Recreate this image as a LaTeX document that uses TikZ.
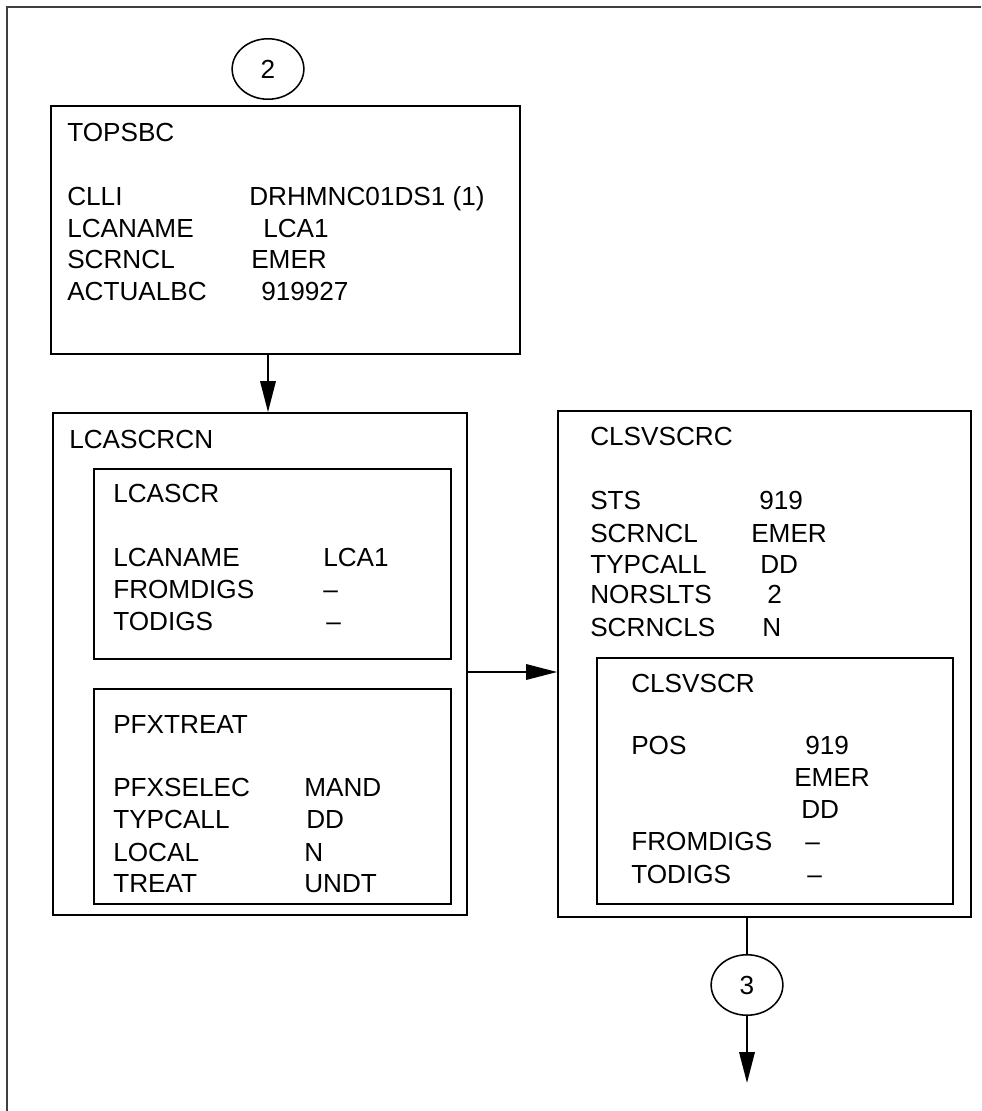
\documentclass[tikz,border=0pt]{standalone}
\usepackage{fontspec}
\setmainfont{Liberation Sans}
\usetikzlibrary{fit,arrows.meta,shapes.geometric}

\begin{document}
\begin{tikzpicture}[x=0.025cm,y=-0.025cm,
  box/.style={draw,line width=1.3pt,inner sep=0pt},
  lbl/.style={anchor=base west,inner sep=0pt,font=\fontsize{18.6}{22}\selectfont},
  conn/.style={draw,ellipse,line width=1.1pt,minimum width=51pt,minimum height=43pt,
    inner sep=0pt,font=\fontsize{18.6}{22}\selectfont},
  arr/.style={line width=1.3pt,-{Triangle[length=22pt,width=11pt]}}]
\useasboundingbox (0,0) rectangle (981,1111);
\draw[line width=1pt,black!75] (7,1111) -- (7,7) -- (981,7);

% boxes
\node[box,fit={(51,106) (520,354)}] (topsbc) {};
\node[box,fit={(53,413) (467,915)}] (lcascrcn) {};
\node[box,fit={(94,469) (451,659)}] (lcascr) {};
\node[box,fit={(94,689) (451,904)}] (pfxtreat) {};
\node[box,fit={(558,411) (971,917)}] (clsvscrc) {};
\node[box,fit={(597,658) (953,904)}] (clsvscr) {};

% off-page connectors
\node[conn] (c2) at (268,69) {2};
\node[conn] (c3) at (747,985) {3};

% TOPSBC
\node[lbl] (topsbc-t) at (67,141) {TOPSBC};
\node[lbl] (topsbc-k1) at (67,205) {CLLI};
\node[lbl] (topsbc-v1) at (249,205) {DRHMNC01DS1 (1)};
\node[lbl] (topsbc-k2) at (67,237) {LCANAME};
\node[lbl] (topsbc-v2) at (263,237) {LCA1};
\node[lbl] (topsbc-k3) at (67,268) {SCRNCL};
\node[lbl] (topsbc-v3) at (251,268) {EMER};
\node[lbl] (topsbc-k4) at (67,300) {ACTUALBC};
\node[lbl] (topsbc-v4) at (261,300) {919927};

% LCASCRCN
\node[lbl] (lcascrcn-t) at (69,448) {LCASCRCN};
\node[lbl] (lcascr-t) at (113,502) {LCASCR};
\node[lbl] (lcascr-k1) at (113,566) {LCANAME};
\node[lbl] (lcascr-v1) at (323,566) {LCA1};
\node[lbl] (lcascr-k2) at (113,598) {FROMDIGS};
\node[lbl] (lcascr-v2) at (323,598) {--};
\node[lbl] (lcascr-k3) at (113,630) {TODIGS};
\node[lbl] (lcascr-v3) at (326,630) {--};
\node[lbl] (pfxtreat-t) at (113,733) {PFXTREAT};
\node[lbl] (pfxtreat-k1) at (113,796) {PFXSELEC};
\node[lbl] (pfxtreat-v1) at (304,796) {MAND};
\node[lbl] (pfxtreat-k2) at (113,828) {TYPCALL};
\node[lbl] (pfxtreat-v2) at (306,828) {DD};
\node[lbl] (pfxtreat-k3) at (113,861) {LOCAL};
\node[lbl] (pfxtreat-v3) at (304,861) {N};
\node[lbl] (pfxtreat-k4) at (113,892) {TREAT};
\node[lbl] (pfxtreat-v4) at (304,892) {UNDT};

% CLSVSCRC
\node[lbl] (clsvscrc-t) at (590,445) {CLSVSCRC};
\node[lbl] (clsvscrc-k1) at (590,509) {STS};
\node[lbl] (clsvscrc-v1) at (759,509) {919};
\node[lbl] (clsvscrc-k2) at (590,542) {SCRNCL};
\node[lbl] (clsvscrc-v2) at (751,542) {EMER};
\node[lbl] (clsvscrc-k3) at (590,573) {TYPCALL};
\node[lbl] (clsvscrc-v3) at (760,573) {DD};
\node[lbl] (clsvscrc-k4) at (590,603) {NORSLTS};
\node[lbl] (clsvscrc-v4) at (767,603) {2};
\node[lbl] (clsvscrc-k5) at (590,636) {SCRNCLS};
\node[lbl] (clsvscrc-v5) at (762,636) {N};
\node[lbl] (clsvscr-t) at (631,692) {CLSVSCR};
\node[lbl] (clsvscr-k1) at (631,754) {POS};
\node[lbl] (clsvscr-v1) at (805,754) {919};
\node[lbl] (clsvscr-v2) at (794,786) {EMER};
\node[lbl] (clsvscr-v3) at (801,818) {DD};
\node[lbl] (clsvscr-k4) at (631,850) {FROMDIGS};
\node[lbl] (clsvscr-v4) at (805,850) {--};
\node[lbl] (clsvscr-k5) at (631,883) {TODIGS};
\node[lbl] (clsvscr-v5) at (807,883) {--};

% connectors
\coordinate (mid) at (0,672);
\coordinate (tail) at (747,1083);
\draw[arr] (topsbc.south -| c2) -- (lcascrcn.north -| c2);
\draw[arr] (lcascrcn.east |- mid) -- (clsvscrc.west |- mid);
\draw[line width=1.3pt] (clsvscrc.south -| c3) -- (c3);
\draw[arr] (c3) -- (tail);
\end{tikzpicture}
\end{document}
